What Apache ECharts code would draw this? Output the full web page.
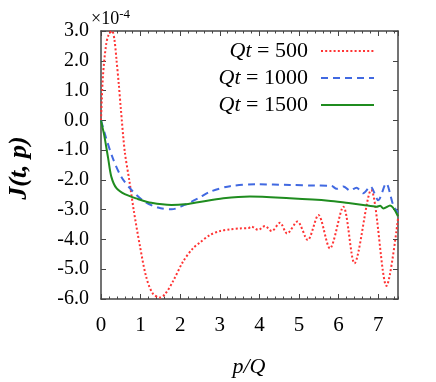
<!DOCTYPE html>
<html>
<head>
<meta charset="utf-8">
<script src="https://cdn.jsdelivr.net/npm/echarts@6/dist/echarts.min.js"></script>
<style>html,body{margin:0;padding:0;background:#fff;}#c{width:436px;height:382px;}</style>
</head>
<body>
<div id="c"></div>
<script>
// ---- data ----
const seriesNames = ['Qt = 500', 'Qt = 1000', 'Qt = 1500'];

const redP = [0, 0.05, 0.13, 0.2, 0.28, 0.34, 0.39, 0.45, 0.5, 0.6, 0.72, 0.83, 0.98, 1.14, 1.3, 1.48, 1.61, 1.82, 2.07, 2.32, 2.5, 2.75, 3.0, 3.26, 3.51, 3.72, 3.8, 3.97, 4.14, 4.31, 4.52, 4.7, 4.96, 5.22, 5.49, 5.78, 6.12, 6.4, 6.82, 7.21, 7.5];
const redJ = [0, 1.5, 2.55, 2.9, 3.0, 2.7, 2.05, 1.2, 0.4, -1.05, -2.06, -3.05, -4.2, -5.25, -5.8, -5.95, -5.85, -5.4, -4.75, -4.3, -4.1, -3.85, -3.72, -3.66, -3.63, -3.62, -3.57, -3.68, -3.55, -3.72, -3.44, -3.8, -3.4, -4.02, -3.18, -4.3, -2.9, -4.8, -2.34, -5.56, -3.3];

const blueP = [0, 0.13, 0.3, 0.51, 0.77, 1.1, 1.44, 1.78, 2.11, 2.45, 2.75, 3.26, 3.93, 4.77, 5.4, 5.82, 5.95, 6.12, 6.29, 6.45, 6.62, 6.8, 7.0, 7.2, 7.38, 7.5];
const blueJ = [0, -0.6, -1.28, -1.89, -2.34, -2.73, -2.93, -2.99, -2.84, -2.62, -2.4, -2.21, -2.15, -2.17, -2.19, -2.2, -2.3, -2.22, -2.36, -2.26, -2.45, -2.22, -2.68, -2.12, -2.85, -3.1];

const greenP = [0, 0.04, 0.08, 0.18, 0.26, 0.39, 0.6, 0.93, 1.27, 1.78, 2.11, 2.45, 3.09, 3.76, 4.77, 5.74, 6.25, 6.62, 6.96, 7.05, 7.13, 7.3, 7.5];
const greenJ = [0, -0.25, -0.49, -1.27, -1.89, -2.28, -2.48, -2.64, -2.77, -2.84, -2.82, -2.75, -2.62, -2.56, -2.62, -2.7, -2.78, -2.84, -2.9, -2.87, -2.96, -2.86, -3.22];

const seriesColors = ['#ff3333', '#4169e1', '#1f8c1f'];
// -------------------------------------

const FONT = 'Liberation Serif';
const zip = (a, b) => a.map((v, i) => [v, b[i]]);
const axisCol = '#444';

const xMajor = (pos, labels) => ({
  type: 'value', position: pos, min: 0, max: 7.5, interval: 1,
  axisLine: {show: true, onZero: false, lineStyle: {color: axisCol, width: 1.5}},
  axisTick: {show: true, inside: true, length: 5, lineStyle: {color: axisCol, width: 1}},
  axisLabel: {show: labels, margin: 16, showMaxLabel: false, color: '#000', fontFamily: FONT, fontSize: 21,
    formatter: v => String(Math.round(v))},
  splitLine: {show: false}
});
const xMinor = (pos) => ({
  type: 'value', position: pos, min: 0, max: 7.5, interval: 0.2,
  axisLine: {show: false, onZero: false},
  axisTick: {show: true, inside: true, length: 2.5, lineStyle: {color: axisCol, width: 1}},
  axisLabel: {show: false}, splitLine: {show: false}
});
const yAx = (pos, labels) => ({
  type: 'value', position: pos, min: -6, max: 3, interval: 1,
  axisLine: {show: true, onZero: false, lineStyle: {color: axisCol, width: 1.5}},
  axisTick: {show: true, inside: true, length: 5, lineStyle: {color: axisCol, width: 1}},
  axisLabel: {show: labels, margin: 12, color: '#000', fontFamily: FONT, fontSize: 20,
    formatter: v => v.toFixed(1)},
  splitLine: {show: false}
});

const mkSeries = (i, p, j, lineStyle) => ({
  name: seriesNames[i], type: 'line', xAxisIndex: 0, yAxisIndex: 0,
  data: zip(p, j), symbol: 'none', showSymbol: false, smooth: 0.3,
  color: seriesColors[i],
  lineStyle: Object.assign({color: seriesColors[i]}, lineStyle),
  z: 3 + i
});

const option = {
  animation: true,
  animationDuration: 60,
  animationDurationUpdate: 0,
  backgroundColor: '#fff',
  textStyle: {fontFamily: FONT},
  grid: {left: 101, right: 38, top: 31, bottom: 83, containLabel: false},
  xAxis: [xMajor('bottom', true), xMinor('bottom'), xMajor('top', false), xMinor('top')],
  yAxis: [yAx('left', true), yAx('right', false)],
  legend: {
    orient: 'vertical', right: 56, top: 35, align: 'right',
    itemWidth: 53, itemHeight: 10, itemGap: 5,
    data: seriesNames,
    formatter: name => name.replace('Qt', '{i|Qt}'),
    itemStyle: {opacity: 0},
    textStyle: {fontFamily: FONT, fontSize: 22, color: '#000', lineHeight: 20, padding: [0, 8, 0, 0],
      rich: {i: {fontFamily: FONT, fontSize: 22, fontStyle: 'italic', color: '#000'}}},
    lineStyle: {width: 'inherit', type: 'inherit'}
  },
  graphic: [
    {type: 'text', left: 91, top: 8, style: {
      text: '{a|×10}{b|-4}', fontFamily: FONT,
      rich: {a: {fontFamily: FONT, fontSize: 18, fill: '#000'}, b: {fontFamily: FONT, fontSize: 13, fill: '#000', padding: [0, 0, 9, 0]}}}},
    {type: 'text', x: 19, y: 168, rotation: Math.PI / 2, style: {
      text: 'J(t, p)', fontFamily: FONT, fontSize: 26, fontWeight: 'bold', fontStyle: 'italic', fill: '#000',
      align: 'center', verticalAlign: 'middle'}},
    {type: 'text', x: 249, y: 367, style: {
      text: 'p/Q', fontFamily: FONT, fontSize: 22, fontStyle: 'italic', fill: '#000',
      align: 'center', verticalAlign: 'middle'}}
  ],
  series: [
    mkSeries(0, redP, redJ, {width: 2, type: [2, 2.2]}),
    mkSeries(1, blueP, blueJ, {width: 2, type: [7, 5]}),
    mkSeries(2, greenP, greenJ, {width: 2, type: 'solid'})
  ]
};

const chart = echarts.init(document.getElementById('c'), null, {renderer: 'canvas'});
chart.setOption(option);
function redraw() { chart.clear(); chart.setOption(option, true); }
setTimeout(redraw, 250);
setTimeout(redraw, 700);
if (document.fonts && document.fonts.ready) document.fonts.ready.then(() => setTimeout(redraw, 50));
</script>
</body>
</html>
